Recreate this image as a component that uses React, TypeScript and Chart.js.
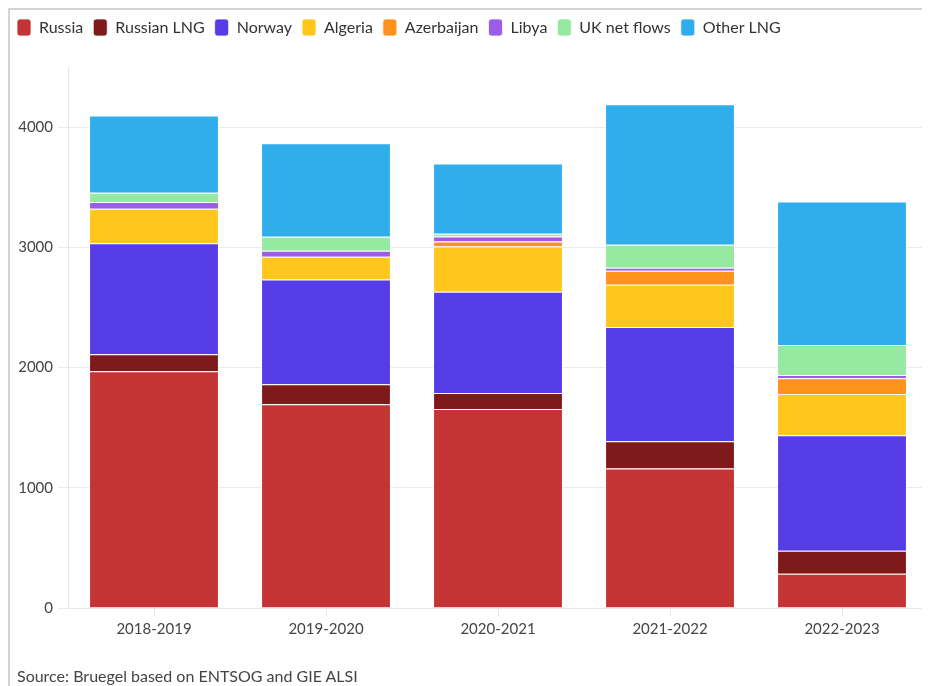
import React, { useEffect, useRef } from "react";
import { Chart, registerables } from "chart.js";

Chart.register(...registerables);

const categories = ["2018-2019", "2019-2020", "2020-2021", "2021-2022", "2022-2023"];
const russia = [1970, 1695, 1655, 1160, 285];
const russianLng = [140, 167, 133, 226, 192];
const norway = [925, 870, 843, 951, 960];
const algeria = [285, 190, 376, 351, 342];
const azerbaijan = [0, 0, 42, 117, 133];
const libya = [58, 50, 41, 25, 26];
const ukNetFlows = [76, 116, 22, 192, 250];
const otherLng = [642, 777, 585, 1168, 1194];
const yTicks = [0, 1000, 2000, 3000, 4000];

const seriesNames = ["Russia", "Russian LNG", "Norway", "Algeria", "Azerbaijan", "Libya", "UK net flows", "Other LNG"];
const seriesColors = ["#c43434", "#7f1a1a", "#553ce6", "#ffc71b", "#ff921b", "#9b5ce6", "#96e9a0", "#30aeec"];
const seriesValues = [russia, russianLng, norway, algeria, azerbaijan, libya, ukNetFlows, otherLng];

const sourceText = "Source: Bruegel based on ENTSOG and GIE ALSI";

const FONT = "Lato, 'Source Sans Pro', sans-serif";

export default function App() {
  const ref = useRef<HTMLCanvasElement | null>(null);
  useEffect(() => {
    if (!ref.current) return;
    const legendSpacer = {
      id: "legendSpacer",
      beforeInit(chart: any) {
        const origFit = chart.legend.fit;
        chart.legend.fit = function () {
          origFit.bind(chart.legend)();
          this.height += 21;
        };
      },
    };
    const chart = new Chart(ref.current, {
      type: "bar",
      data: {
        labels: categories,
        datasets: seriesNames.map((name, i) => ({
          label: name,
          data: seriesValues[i],
          backgroundColor: seriesColors[i],
          borderColor: "rgba(255,255,255,0.75)",
          borderWidth: 1,
          categoryPercentage: 1,
          barPercentage: 0.755,
        })),
      },
      plugins: [legendSpacer],
      options: {
        animation: false,
        responsive: true,
        maintainAspectRatio: false,
        layout: { padding: { left: 0, right: 2, top: -1, bottom: 44 } },
        plugins: {
          legend: {
            position: "top",
            align: "start",
            labels: {
              boxWidth: 14,
              boxHeight: 17,
              useBorderRadius: true,
              borderRadius: 3,
              padding: 10,
              color: "#333",
              font: { family: FONT, size: 16 },
            },
          } as any,
          title: { display: false },
          tooltip: { enabled: false },
        },
        scales: {
          x: {
            stacked: true,
            grid: {
              offset: false,
              drawOnChartArea: false,
              drawTicks: true,
              tickLength: 8,
              color: "#e6e6e6",
            },
            border: { color: "#e6e6e6" },
            ticks: { color: "#444", font: { family: FONT, size: 15 }, padding: 4 },
          },
          y: {
            stacked: true,
            min: 0,
            max: 4500,
            afterFit(scale: any) {
              scale.width = 61;
            },
            afterBuildTicks(scale: any) {
              scale.ticks = yTicks.map((v) => ({ value: v }));
            },
            grid: { color: "#ebebeb", tickLength: 10, drawTicks: true },
            border: { color: "#e6e6e6" },
            ticks: {
              color: "#444",
              font: { family: FONT, size: 15 },
              padding: 5,
              callback: (v: any) => String(v),
            },
          },
        },
      },
    });
    return () => chart.destroy();
  }, []);

  return (
    <div style={{ position: "relative", width: 922, height: 678 }}>
      <div
        style={{
          position: "absolute",
          left: 0,
          top: 0,
          width: 922,
          height: 678,
          borderTop: "2px solid #d4d4d4",
          borderLeft: "2px solid #d4d4d4",
          boxSizing: "border-box",
        }}
      />
      <div style={{ position: "absolute", left: -1, top: 2, width: 923, height: 676 }}>
        <canvas ref={ref} />
      </div>
      <div
        style={{
          position: "absolute",
          left: 9,
          top: 658,
          fontFamily: FONT,
          fontSize: 16,
          lineHeight: "20px",
          color: "#444",
          whiteSpace: "nowrap",
        }}
      >
        {sourceText}
      </div>
    </div>
  );
}
